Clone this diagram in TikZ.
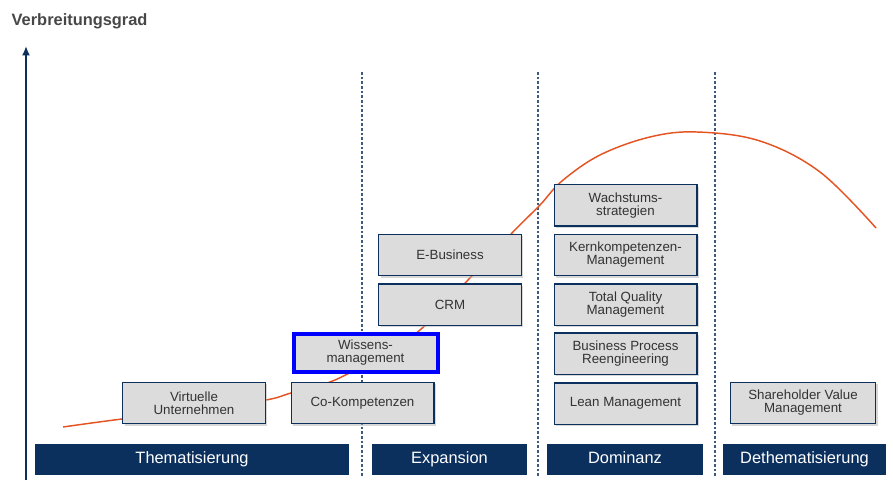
\documentclass[tikz,border=0pt]{standalone}
\usepackage{fontspec}
\setmainfont{Liberation Sans}
\usepackage{tikz}
\usetikzlibrary{shadows,arrows.meta}
\definecolor{navy}{RGB}{12,48,94}
\definecolor{boxgray}{RGB}{220,220,220}
\definecolor{curvered}{RGB}{228,84,34}
\definecolor{textgray}{RGB}{51,51,51}

\begin{document}
\begin{tikzpicture}[x=0.75pt,y=-0.75pt]
\tikzstyle{stagebox}=[rectangle, draw=navy, line width=1pt, fill=boxgray, minimum width=107pt, minimum height=31pt, inner sep=1pt, align=center, text=textgray, font=\fontsize{10}{9.8}\selectfont, drop shadow={shadow xshift=1.5pt, shadow yshift=-1.5pt, fill=black!30}]
\tikzstyle{phase}=[rectangle, fill=navy, minimum height=23.5pt, inner sep=0pt, text height=8.8pt, text depth=2.6pt, text=white, font=\fontsize{12.3}{12.3}\selectfont]
\tikzstyle{divider}=[navy!80, line width=0.8pt, dash pattern=on 2pt off 1.5pt]
\tikzstyle{axis}=[navy, line width=1.5pt, -{Latex[length=7pt,width=6pt]}]
\useasboundingbox (0,0) rectangle (893,481);

% Achse und Titel
\coordinate (a0) at (26,480);
\coordinate (a1) at (26,46);
\draw[axis] (a0) -- (a1);
\node[anchor=west, text=textgray!90, font=\bfseries\fontsize{12.3}{12.3}\selectfont] (title) at (7,21) {Verbreitungsgrad};

% Phasengrenzen
\foreach \xd/\nm in {362/d1,538/d2,715/d3}{
  \coordinate (\nm t) at (\xd,72);
  \coordinate (\nm b) at (\xd,478);
  \draw[divider] (\nm t) -- (\nm b);
}

% Verbreitungskurve
\draw[curvered, line width=1.1pt] plot[smooth, tension=0.6] coordinates {(63,427) (122,419) (200,410) (266,400) (291,393) (335,380) (380,355) (420,330) (468,280) (512,233) (540,205) (562,181) (600,155) (650,137) (697,132) (760,141) (820,172) (876,228)};

% Phasen
\node[phase, minimum width=235.5pt] (them) at (192,459.5) {Thematisierung};
\node[phase, minimum width=116.25pt] (exp) at (449.5,459.5) {Expansion};
\node[phase, minimum width=117pt] (dom) at (625,459.5) {Dominanz};
\node[phase, minimum width=122.25pt] (dethem) at (804.5,459.5) {Dethematisierung};

% Konzepte
\node[stagebox] (virt) at (194,403) {Virtuelle\\Unternehmen};
\node[stagebox] (cokomp) at (362.5,403) {Co-Kompetenzen};
\node[stagebox, draw=blue, line width=3pt, minimum width=108pt, minimum height=29pt] (wissen) at (365.5,353) {Wissens-\\management};
\node[stagebox] (crm) at (450,304.5) {CRM};
\node[stagebox] (ebus) at (450,255) {E-Business};
\node[stagebox] (wachs) at (625.5,205.5) {Wachstums-\\strategien};
\node[stagebox] (kern) at (625.5,255) {Kernkompetenzen-\\Management};
\node[stagebox] (tqm) at (625.5,304.5) {Total Quality\\Management};
\node[stagebox] (bpr) at (625.5,353.5) {Business Process\\Reengineering};
\node[stagebox] (lean) at (625.5,403.5) {Lean Management};
\node[stagebox, minimum width=109pt] (svm) at (803,403) {Shareholder Value\\Management};
\end{tikzpicture}
\end{document}
